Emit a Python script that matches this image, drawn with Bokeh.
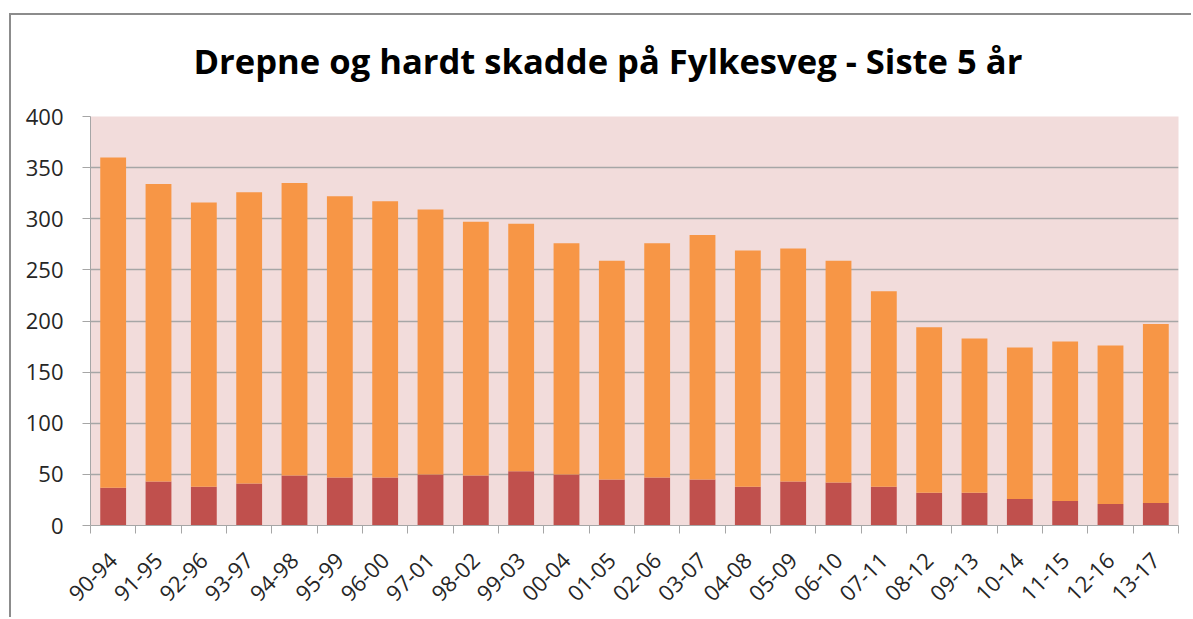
import math
from bokeh.plotting import figure
from bokeh.models import ColumnDataSource, Range1d, FixedTicker
from bokeh.embed import file_html
from bokeh.resources import INLINE

periods = ["90-94", "91-95", "92-96", "93-97", "94-98", "95-99", "96-00", "97-01",
           "98-02", "99-03", "00-04", "01-05", "02-06", "03-07", "04-08", "05-09",
           "06-10", "07-11", "08-12", "09-13", "10-14", "11-15", "12-16", "13-17"]
drepte = [37, 43, 38, 41, 49, 47, 47, 50, 49, 53, 50, 45,
          47, 45, 38, 43, 42, 38, 32, 32, 26, 24, 21, 22]
hardt_skadde = [323, 291, 278, 285, 286, 275, 270, 259, 248, 242, 226, 214,
                229, 239, 231, 228, 217, 191, 162, 151, 148, 156, 155, 175]
y_ticks = [0, 50, 100, 150, 200, 250, 300, 350, 400]

idx = list(range(len(periods)))
source = ColumnDataSource(data=dict(x=idx, drepte=drepte, hardt_skadde=hardt_skadde))

p = figure(width=1182, height=604, output_backend="svg", toolbar_location=None,
           x_range=Range1d(-0.5, len(periods) - 0.5), y_range=Range1d(0, 400),
           min_border_left=79, min_border_right=15, min_border_top=101, min_border_bottom=94,
           title="Drepne og hardt skadde på Fylkesveg - Siste 5 år")
p.styles = {"margin-top": "13px", "margin-left": "9px",
            "border-top": "2px solid #8c8c8c", "border-left": "2px solid #8c8c8c"}

p.title.align = "left"
p.title.offset = 103
p.title.text_font = "Open Sans"
p.title.text_font_size = "34.6px"
p.title.text_font_style = "bold"
p.title.text_color = "#000000"
p.title.standoff = 34
p.title.padding = (0, 0, 0, 16)

p.background_fill_color = "#f2dcdb"
p.border_fill_color = "#ffffff"
p.outline_line_color = None

p.vbar_stack(["drepte", "hardt_skadde"], x="x", width=0.57, source=source,
             color=["#c0504d", "#f79646"], line_color=None)

# y axis
p.yaxis.ticker = FixedTicker(ticks=y_ticks)
p.yaxis.axis_line_color = "#a6a6a6"
p.yaxis.major_tick_line_color = "#a6a6a6"
p.yaxis.major_tick_out = 8
p.yaxis.major_tick_in = 0
p.yaxis.minor_tick_line_color = None
p.yaxis.major_label_standoff = 19
p.yaxis.major_label_text_font = "Open Sans"
p.yaxis.major_label_text_font_size = "22px"
p.yaxis.major_label_text_color = "#262626"

# x axis
p.xaxis.ticker = FixedTicker(ticks=idx, minor_ticks=[i - 0.5 for i in range(len(periods) + 1)])
p.xaxis.major_label_overrides = {i: lab for i, lab in enumerate(periods)}
p.xaxis.axis_line_color = "#a6a6a6"
p.xaxis.major_tick_line_color = None
p.xaxis.major_tick_out = 6
p.xaxis.minor_tick_line_color = "#a6a6a6"
p.xaxis.minor_tick_out = 8
p.xaxis.minor_tick_in = 0
p.xaxis.major_label_orientation = math.pi / 4
p.xaxis.major_label_standoff = 23
p.xaxis.major_label_text_font = "Open Sans"
p.xaxis.major_label_text_font_size = "22px"
p.xaxis.major_label_text_color = "#262626"

p.xgrid.grid_line_color = None
p.ygrid.ticker = FixedTicker(ticks=y_ticks)
p.ygrid.grid_line_color = "#a6a6a6"
p.ygrid.grid_line_width = 1.5

open("out.html", "w").write(file_html(p, INLINE))
